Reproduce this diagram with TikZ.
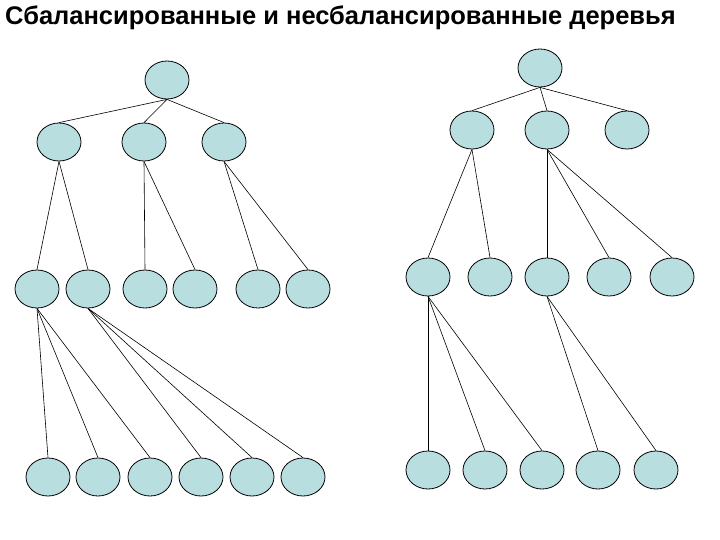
\documentclass[tikz,border=0pt]{standalone}
\usepackage{fontspec}
\setmainfont{Liberation Sans}
\usetikzlibrary{shapes.geometric}
\definecolor{nodefill}{HTML}{B8DEE0}
\begin{document}
\begin{tikzpicture}[x=1pt,y=-1pt,
  tn/.style={ellipse,draw=black,line width=0.8pt,fill=nodefill,minimum width=44pt,minimum height=38pt,inner sep=0pt},
  ed/.style={draw=black,line width=0.6pt}]
\useasboundingbox (0,0) rectangle (720,540);
\node[anchor=west,font=\bfseries\fontsize{25.5}{28}\selectfont,inner sep=0pt] (title) at (5,18) {Сбалансированные и несбалансированные деревья};
% left tree
\node[tn] (r) at (167,80) {};
\node[tn] (a1) at (59,142) {};
\node[tn] (a2) at (144,142) {};
\node[tn] (a3) at (224,142) {};
\foreach \n/\x in {b1/37,b2/88,b3/145,b4/195,b5/258,b6/308} \node[tn] (\n) at (\x,289) {};
\foreach \n/\x in {c1/48,c2/98,c3/150,c4/201,c5/252,c6/303} \node[tn] (\n) at (\x,477) {};
\foreach \p/\c in {r/a1,r/a2,r/a3,a1/b1,a1/b2,a2/b3,a2/b4,a3/b5,a3/b6,b1/c1,b1/c2,b1/c3,b2/c4,b2/c5,b2/c6}
  \draw[ed] (\p.south) -- (\c.north);
% right tree
\node[tn] (R) at (540,68) {};
\node[tn] (A1) at (472,130) {};
\node[tn] (A2) at (547,130) {};
\node[tn] (A3) at (627,130) {};
\foreach \n/\x in {B1/428,B2/490,B3/547,B4/609,B5/672} \node[tn] (\n) at (\x,277) {};
\foreach \n/\x in {C1/428,C2/485,C3/542,C4/598,C5/656} \node[tn] (\n) at (\x,470) {};
\foreach \p/\c in {R/A1,R/A2,R/A3,A1/B1,A1/B2,A2/B3,A2/B4,A2/B5,B1/C1,B1/C2,B1/C3,B3/C4,B3/C5}
  \draw[ed] (\p.south) -- (\c.north);
\end{tikzpicture}
\end{document}
